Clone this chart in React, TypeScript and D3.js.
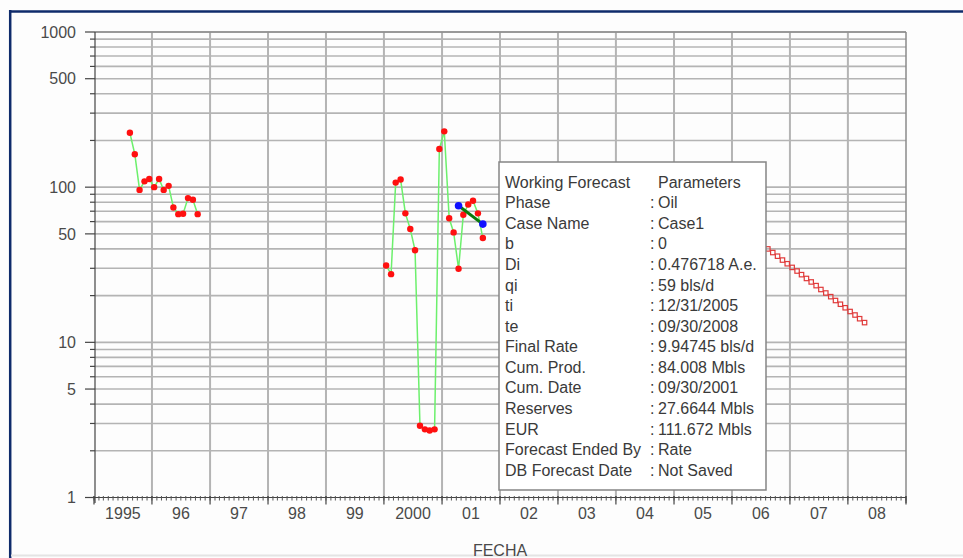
import React from "react";
import * as d3 from "d3";

// ---- Data ----
const prodDates1 = ["1995-08","1995-09","1995-10","1995-11","1995-12","1996-01","1996-02","1996-03","1996-04","1996-05","1996-06","1996-07","1996-08","1996-09","1996-10"];
const prodRates1 = [224, 163, 96, 109, 113, 100, 113, 96, 102, 74, 67, 67.4, 85, 83, 67];

const prodDates2 = ["2000-01","2000-02","2000-03","2000-04","2000-05","2000-06","2000-07","2000-08","2000-09","2000-10","2000-11","2000-12","2001-01","2001-02","2001-03","2001-04","2001-05","2001-06","2001-07","2001-08","2001-09"];
const prodRates2 = [31.3, 27.5, 107, 112, 67.8, 53.7, 39.2, 2.9, 2.75, 2.7, 2.75, 176, 229, 63, 51.1, 29.8, 66.4, 77.4, 81.7, 67.8, 47];

const fitDates = ["2001-04", "2001-09"];
const fitRates = [75.9, 57.8];

const forecastDates = ["2006-08","2006-09","2006-10","2006-11","2006-12","2007-01","2007-02","2007-03","2007-04","2007-05","2007-06","2007-07","2007-08","2007-09","2007-10","2007-11","2007-12","2008-01","2008-02","2008-03","2008-04"];
const forecastRates = [40, 37.9, 35.9, 33.9, 32.1, 30.4, 28.8, 27.3, 25.8, 24.5, 23.2, 21.9, 20.8, 19.7, 18.6, 17.6, 16.7, 15.8, 15.0, 14.2, 13.4];

const yearLabels = ["1995","96","97","98","99","2000","01","02","03","04","05","06","07","08"];
const yTickValues = [1, 5, 10, 50, 100, 500, 1000];
const yTickLabels = ["1", "5", "10", "50", "100", "500", "1000"];

const legendKeys = ["Working Forecast","Phase","Case Name","b","Di","qi","ti","te","Final Rate","Cum. Prod.","Cum. Date","Reserves","EUR","Forecast Ended By","DB Forecast Date"];
const legendValues = ["Parameters","Oil","Case1","0","0.476718 A.e.","59 bls/d","12/31/2005","09/30/2008","9.94745 bls/d","84.008 Mbls","09/30/2001","27.6644 Mbls","111.672 Mbls","Rate","Not Saved"];

const FONT = "'Liberation Sans', Arial, sans-serif";

function midMonth(s: string): Date {
  const [y, m] = s.split("-").map(Number);
  return new Date(y, m - 1, 15);
}

export default function App() {
  const W = 963, H = 558;
  const x = d3.scaleTime().domain([new Date(1995, 0, 1), new Date(2009, 0, 1)]).range([94, 906]);
  const y = d3.scaleLog().domain([1, 1000]).range([497.5, 32]);

  const line = d3.line<[Date, number]>().x(d => x(d[0])).y(d => y(d[1]));
  const s1: [Date, number][] = prodDates1.map((d, i) => [midMonth(d), prodRates1[i]]);
  const s2: [Date, number][] = prodDates2.map((d, i) => [midMonth(d), prodRates2[i]]);
  const fit: [Date, number][] = fitDates.map((d, i) => [midMonth(d), fitRates[i]]);
  const fc: [Date, number][] = forecastDates.map((d, i) => [midMonth(d), forecastRates[i]]);

  // horizontal grid values (log minors)
  const gridVals: number[] = [];
  for (const dec of [1, 10, 100]) for (let k = 1; k <= 9; k++) gridVals.push(k * dec);
  gridVals.push(1000);

  const years = d3.timeYear.range(new Date(1995, 0, 1), new Date(2010, 0, 1)).slice(0, 15);
  const months = d3.timeMonth.range(new Date(1995, 0, 1), new Date(2009, 0, 2));

  const rowY = (i: number) => 182 + i * 20.57;

  return (
    <svg width={W} height={H} style={{ position: "absolute", left: 0, top: 0, background: "#fff" }}>
      {/* frame */}
      <rect x={0} y={0} width={W} height={H} fill="#fdfdfd" />
      <line x1={9} x2={W} y1={11.5} y2={11.5} stroke="#0f2b6b" strokeWidth={2.5} />
      <line x1={10.2} x2={10.2} y1={10} y2={H} stroke="#0f2b6b" strokeWidth={2.5} />
      <line x1={11} x2={W} y1={555.5} y2={555.5} stroke="#e4e4e4" strokeWidth={2} />

      {/* horizontal grid */}
      {gridVals.map(v => (
        <line key={"h" + v} x1={95} x2={906} y1={y(v)} y2={y(v)} stroke={v === 1 ? "none" : "#b4b4b4"} strokeWidth={1.6} />
      ))}
      {/* vertical grid */}
      {years.slice(1, 14).map((d, i) => (
        <line key={"v" + i} x1={x(d)} x2={x(d)} y1={32} y2={497} stroke="#b4b4b4" strokeWidth={2} />
      ))}
      {/* plot border top/right */}
      <line x1={95} x2={906} y1={32} y2={32} stroke="#8a8a8a" strokeWidth={1.5} />
      <line x1={906} x2={906} y1={32} y2={503} stroke="#8a8a8a" strokeWidth={1.5} />

      {/* y axis */}
      <line x1={95} x2={95} y1={32} y2={503} stroke="#444" strokeWidth={1.2} />
      {gridVals.map(v => (
        <line key={"yt" + v} x1={yTickValues.includes(v) ? 85 : 90} x2={95} y1={y(v)} y2={y(v)} stroke="#444" strokeWidth={1.2} />
      ))}
      {yTickValues.map((v, i) => (
        <text key={"yl" + v} x={76} y={y(v)} dy="0.36em" textAnchor="end" fontFamily={FONT} fontSize={16} fill="#4a4a4a">{yTickLabels[i]}</text>
      ))}

      {/* x axis */}
      <line x1={94} x2={906} y1={497.5} y2={497.5} stroke="#444" strokeWidth={1.2} />
      {months.map((d, i) => (
        <line key={"mt" + i} x1={x(d)} x2={x(d)} y1={496} y2={500.5} stroke="#555" strokeWidth={1} />
      ))}
      {years.map((d, i) => (
        <line key={"yt2" + i} x1={x(d)} x2={x(d)} y1={496} y2={504.5} stroke="#444" strokeWidth={1.2} />
      ))}
      {yearLabels.map((lab, i) => (
        <text key={"xl" + i} x={x(new Date(1995 + i, 6, 2))} y={519} textAnchor="middle" fontFamily={FONT} fontSize={16} fill="#4a4a4a">{lab}</text>
      ))}
      <text x={500} y={556} textAnchor="middle" fontFamily={FONT} fontSize={16} fill="#4a4a4a">FECHA</text>

      {/* production series */}
      <path d={line(s1) || ""} fill="none" stroke="#6cf06c" strokeWidth={1.5} />
      <path d={line(s2) || ""} fill="none" stroke="#6cf06c" strokeWidth={1.5} />
      {[...s1, ...s2].map((d, i) => (
        <circle key={"p" + i} cx={x(d[0])} cy={y(d[1])} r={3.2} fill="#ff1010" />
      ))}
      {/* fit segment */}
      <path d={line(fit) || ""} fill="none" stroke="#0a7a0a" strokeWidth={3} />
      {fit.map((d, i) => (
        <circle key={"f" + i} cx={x(d[0])} cy={y(d[1])} r={3.8} fill="#1010ff" />
      ))}

      {/* forecast squares */}
      {fc.map((d, i) => (
        <rect key={"fc" + i} x={x(d[0]) - 2.2} y={y(d[1]) - 2.2} width={4.4} height={4.4} fill="none" stroke="#e03a3a" strokeWidth={1.2} />
      ))}

      {/* legend box */}
      <rect x={499} y={162} width={267} height={328} fill="#fff" stroke="#858585" strokeWidth={1.5} />
      {legendKeys.map((k, i) => (
        <g key={"lg" + i} fontFamily={FONT} fontSize={16} fill="#3a3a3a">
          <text x={505} y={rowY(i)} dy="0.36em">{k}</text>
          {i > 0 && <text x={650} y={rowY(i)} dy="0.36em">:</text>}
          <text x={658} y={rowY(i)} dy="0.36em">{legendValues[i]}</text>
        </g>
      ))}
    </svg>
  );
}
